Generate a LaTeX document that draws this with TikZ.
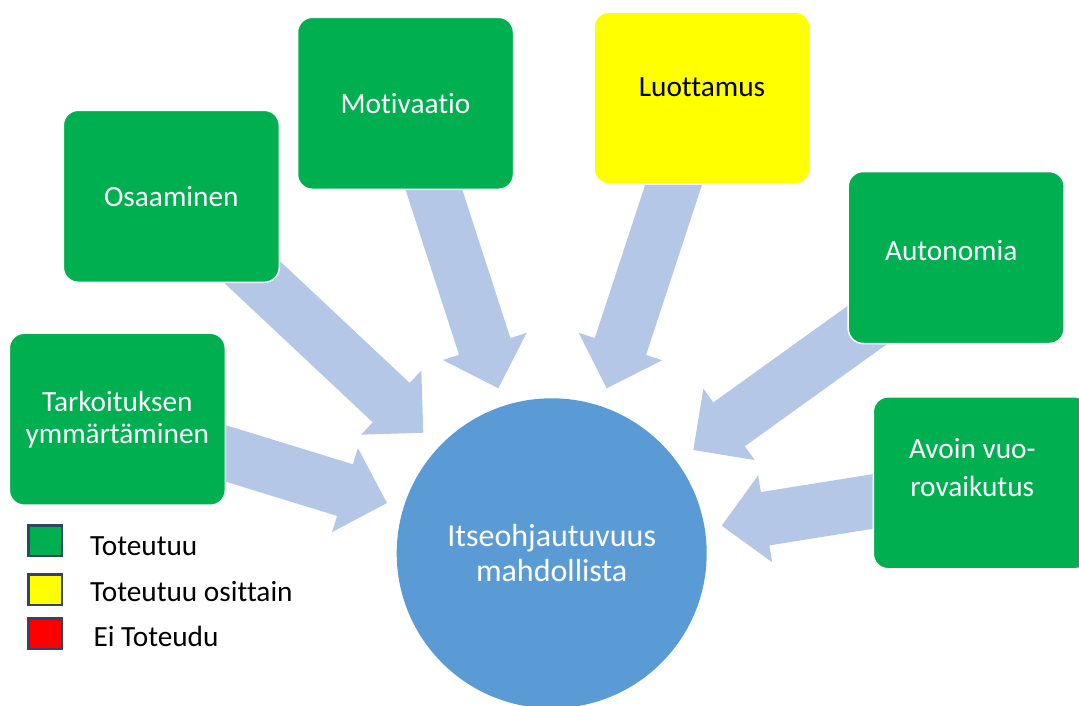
\documentclass[tikz,border=0pt]{standalone}
\usepackage{fontspec}
\setmainfont{Carlito}[Ligatures=NoCommon]
\usetikzlibrary{calc}
\definecolor{boxgreen}{HTML}{00B050}
\definecolor{boxyellow}{HTML}{FFFF00}
\definecolor{boxred}{HTML}{FF0000}
\definecolor{arrowblue}{HTML}{B4C7E7}
\definecolor{circblue}{HTML}{5B9BD5}
\definecolor{legborder}{HTML}{2F4561}
\newcommand\blockarrow[2]{%
  \coordinate (#1-n) at ($(#2)!44pt!(#1)$);
  \fill[arrowfill] ($(#1)!27pt!90:(#2)$) -- ($(#1-n)!27pt!90:(#2)$) -- ($(#1-n)!44pt!90:(#2)$) -- (#2)
    -- ($(#1-n)!44pt!-90:(#2)$) -- ($(#1-n)!27pt!-90:(#2)$) -- ($(#1)!27pt!-90:(#2)$) -- cycle;
}
\tikzset{
  arrowfill/.style={fill=arrowblue},
  box/.style={rectangle, rounded corners=15pt, minimum width=216pt, minimum height=172pt,
    draw=white, line width=1.5pt, inner sep=0pt},
  gbox/.style={box, fill=boxgreen},
  ybox/.style={box, fill=boxyellow},
  btext/.style={text=white, align=center, inner sep=0pt,
    font=\fontsize{29.3pt}{32pt}\selectfont},
  legsq/.style={rectangle, draw=legborder, line width=2.5pt, minimum width=33.5pt,
    minimum height=30.5pt, inner sep=0pt},
  legtext/.style={anchor=base west, inner sep=0pt, text=black,
    font=\fontsize{29.3pt}{32pt}\selectfont},
}
\begin{document}
\begin{tikzpicture}[x=1pt, y=-1pt]
\useasboundingbox (0,0) rectangle (1079,705);
\clip (0,0) rectangle (1079,705);
% arrow end points
\coordinate (a1s) at (195.8,444.2); \coordinate (a1e) at (387,503);
\coordinate (a2s) at (219,241);     \coordinate (a2e) at (423.3,432.7);
\coordinate (a3s) at (427.4,169.6); \coordinate (a3e) at (498.3,388.3);
\coordinate (a4s) at (678.5,169.8); \coordinate (a4e) at (606.7,388.3);
\coordinate (a5s) at (888.2,310);   \coordinate (a5e) at (693.3,450);
\coordinate (a6s) at (909.3,495.6); \coordinate (a6e) at (721.7,525.7);
\blockarrow{a1s}{a1e}
\blockarrow{a2s}{a2e}
\blockarrow{a3s}{a3e}
\blockarrow{a4s}{a4e}
\blockarrow{a5s}{a5e}
\blockarrow{a6s}{a6e}
% boxes
\node[gbox, label={[btext, name=tar-t]center:Tarkoituksen\\ymmärtäminen}] (tar) at (117.3,419.2) {};
\node[gbox, label={[btext, name=osa-t]center:Osaaminen}] (osa) at (171.3,196.3) {};
\node[gbox, label={[btext, name=mot-t]center:Motivaatio}] (mot) at (405.5,103.3) {};
\node[ybox, label={[btext, text=black, yshift=11pt, name=luo-t]center:Luottamus}] (luo) at (702,98) {};
\node[gbox, label={[btext, xshift=-5pt, yshift=7pt, name=aut-t]center:Autonomia}] (aut) at (956.2,257.5) {};
\node[gbox, label={[btext, xshift=-9pt, yshift=15pt, name=avo-t,
  font=\fontsize{29.3pt}{38pt}\selectfont]center:Avoin vuo-\\rovaikutus}] (avo) at (981.3,482.8) {};
% circle
\node[circle, fill=circblue, minimum size=310pt, inner sep=0pt, text=white, align=center,
  font=\fontsize{32pt}{35pt}\selectfont] (c) at (551.7,553.3) {Itseohjautuvuus\\mahdollista};
% legend
\node[legsq, fill=boxgreen] (lg1) at (45,540.5) {};
\node[legsq, fill=boxyellow] (lg2) at (45,589.5) {};
\node[legsq, fill=boxred] (lg3) at (45,633.5) {};
\node[legtext] (lt1) at (90,555) {Toteutuu};
\node[legtext] (lt2) at (90,601.7) {Toteutuu osittain};
\node[legtext] (lt3) at (93.3,646.7) {Ei Toteudu};
\end{tikzpicture}
\end{document}
